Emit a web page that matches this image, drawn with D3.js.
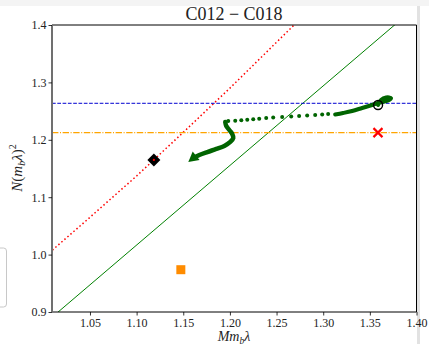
<!DOCTYPE html>
<html>
<head>
<meta charset="utf-8">
<script src="https://cdn.jsdelivr.net/npm/d3@7"></script>
<style>
  html, body { margin: 0; padding: 0; background: #fff; }
  svg { display: block; }
  text { font-family: "Liberation Serif", "DejaVu Serif", serif; fill: #222; }
</style>
</head>
<body>
<svg id="chart" width="429" height="344"></svg>
<script>
// ---------- data ----------
const title = "C012 \u2212 C018";
const xTicks = [1.05, 1.10, 1.15, 1.20, 1.25, 1.30, 1.35, 1.40];
const yTicks = [0.9, 1.0, 1.1, 1.2, 1.3, 1.4];
const xDomain = [1.0093, 1.40];
const yDomain = [0.9, 1.4];

// red dotted curve
const redCurveX = [1.00, 1.05, 1.10, 1.15, 1.20, 1.25, 1.28];
const redCurveY = [0.994, 1.065, 1.137, 1.213, 1.290, 1.370, 1.418];
// green solid line
const greenLineX = [1.00, 1.40];
const greenLineY = [0.878, 1.4326];
// horizontal reference lines
const blueDashedY = 1.2636;
const orangeDashDotY = 1.2125;

// trajectory: dense start (loop), sparse dots, dense end
const trajStartX = [1.3588, 1.3620, 1.3674, 1.3727, 1.3695, 1.3609, 1.3524, 1.3417, 1.3310, 1.3213, 1.3128];
const trajStartY = [1.2606, 1.2693, 1.2737, 1.2728, 1.2685, 1.2650, 1.2606, 1.2554, 1.2502, 1.2467, 1.2441];
const trajDotsX = [1.3053, 1.2989, 1.2914, 1.2828, 1.2742, 1.2657, 1.2560, 1.2464, 1.2389, 1.2314, 1.2250, 1.2186, 1.2122, 1.2057, 1.1982];
const trajDotsY = [1.2449, 1.2441, 1.2432, 1.2423, 1.2415, 1.2406, 1.2397, 1.2389, 1.2380, 1.2368, 1.2359, 1.2350, 1.2341, 1.2334, 1.2328];
const trajEndX = [1.1950, 1.1961, 1.1993, 1.2025, 1.2036, 1.2004, 1.1940, 1.1854, 1.1758, 1.1672, 1.1608];
const trajEndY = [1.2310, 1.2240, 1.2171, 1.2101, 1.2031, 1.1962, 1.1892, 1.1840, 1.1787, 1.1735, 1.1683];
const arrowTip = [1.1554, 1.1613];

// markers
const diamondPt = [1.1185, 1.165];
const crossPt = [1.3587, 1.2125];
const squarePt = [1.1474, 0.9737];
const circlePt = [1.3588, 1.2606];

// ---------- layout ----------
const L = 52, R = 416.5, T = 25, B = 312;
const svg = d3.select("#chart");
const x = d3.scaleLinear().domain(xDomain).range([L, R]);
const y = d3.scaleLinear().domain(yDomain).range([B, T]);

// background bits
svg.append("rect").attr("x", 0).attr("y", 0).attr("width", 429).attr("height", 6).attr("fill", "#f4f4f4");
svg.append("rect").attr("x", 417).attr("y", 6).attr("width", 3).attr("height", 338).attr("fill", "#e2e2e2");
// cut-off legend box at left
svg.append("rect").attr("x", -20).attr("y", 248).attr("width", 26.5).attr("height", 59)
  .attr("rx", 3).attr("fill", "#fff").attr("stroke", "#c8c8c8").attr("stroke-width", 1);

svg.append("defs").append("clipPath").attr("id", "clip")
  .append("rect").attr("x", L).attr("y", T).attr("width", R - L).attr("height", B - T);
const g = svg.append("g").attr("clip-path", "url(#clip)");

const line = d3.line().x(d => x(d[0])).y(d => y(d[1]));

// red dotted
g.append("path").datum(redCurveX.map((v, i) => [v, redCurveY[i]]))
  .attr("d", line).attr("fill", "none").attr("stroke", "red")
  .attr("stroke-width", 1.5).attr("stroke-dasharray", "1.5 2.5");
// green solid
g.append("path").datum(greenLineX.map((v, i) => [v, greenLineY[i]]))
  .attr("d", line).attr("fill", "none").attr("stroke", "#008000").attr("stroke-width", 1);
// blue dashed
g.append("line").attr("x1", L).attr("x2", R).attr("y1", y(blueDashedY)).attr("y2", y(blueDashedY))
  .attr("stroke", "#0000d0").attr("stroke-width", 1).attr("stroke-dasharray", "3.7 1.6");
// orange dash-dot
g.append("line").attr("x1", L).attr("x2", R).attr("y1", y(orangeDashDotY)).attr("y2", y(orangeDashDotY))
  .attr("stroke", "#ffa500").attr("stroke-width", 1.2).attr("stroke-dasharray", "6.4 1.6 1 1.6");

// trajectory
const dg = "#006400";
const curve = d3.line().x(d => x(d[0])).y(d => y(d[1])).curve(d3.curveCatmullRom);
g.append("path").datum(trajStartX.map((v, i) => [v, trajStartY[i]]))
  .attr("d", curve).attr("fill", "none").attr("stroke", dg).attr("stroke-width", 4)
  .attr("stroke-linecap", "round").attr("stroke-linejoin", "round");
g.selectAll("circle.dot").data(trajDotsX.map((v, i) => [v, trajDotsY[i]])).enter()
  .append("circle").attr("class", "dot").attr("cx", d => x(d[0])).attr("cy", d => y(d[1]))
  .attr("r", 2).attr("fill", dg);
const endPts = trajEndX.map((v, i) => [v, trajEndY[i]]);
g.append("path").datum(endPts)
  .attr("d", curve).attr("fill", "none").attr("stroke", dg).attr("stroke-width", 4.5)
  .attr("stroke-linecap", "round").attr("stroke-linejoin", "round");
// arrow head
{
  const last = endPts[endPts.length - 1];
  const tx = x(arrowTip[0]), ty = y(arrowTip[1]);
  const bx = x(last[0]), by = y(last[1]);
  const dx = tx - bx, dy = ty - by, len = Math.hypot(dx, dy);
  const ux = dx / len, uy = dy / len, px = -uy, py = ux;
  const hl = 10, hw = 5.5;
  const baseX = tx - ux * hl, baseY = ty - uy * hl;
  g.append("path")
    .attr("d", `M${tx},${ty} L${baseX + px * hw},${baseY + py * hw} L${baseX - px * hw},${baseY - py * hw} Z`)
    .attr("fill", dg);
  g.append("line").attr("x1", bx).attr("y1", by).attr("x2", baseX + ux * 2).attr("y2", baseY + uy * 2)
    .attr("stroke", dg).attr("stroke-width", 4.5);
}

// markers
const dx0 = x(diamondPt[0]), dy0 = y(diamondPt[1]);
g.append("path").attr("d", `M${dx0},${dy0 - 6.5} L${dx0 + 6.5},${dy0} L${dx0},${dy0 + 6.5} L${dx0 - 6.5},${dy0} Z`)
  .attr("fill", "#000");
g.append("circle").attr("cx", dx0).attr("cy", dy0).attr("r", 1.1).attr("fill", "red");

const cx0 = x(crossPt[0]), cy0 = y(crossPt[1]), cs = 4.5;
g.append("path").attr("d", `M${cx0 - cs},${cy0 - cs} L${cx0 + cs},${cy0 + cs} M${cx0 - cs},${cy0 + cs} L${cx0 + cs},${cy0 - cs}`)
  .attr("stroke", "red").attr("stroke-width", 2.2);

g.append("rect").attr("x", x(squarePt[0]) - 4.5).attr("y", y(squarePt[1]) - 4.5)
  .attr("width", 9).attr("height", 9).attr("fill", "#ff8c00");

g.append("circle").attr("cx", x(circlePt[0])).attr("cy", y(circlePt[1])).attr("r", 4.5)
  .attr("fill", "none").attr("stroke", "#000").attr("stroke-width", 1.4);

// spines
svg.append("line").attr("x1", L).attr("x2", R).attr("y1", T).attr("y2", T).attr("stroke", "#000").attr("stroke-width", 1);
svg.append("line").attr("x1", R).attr("x2", R).attr("y1", T).attr("y2", B).attr("stroke", "#000").attr("stroke-width", 1);
svg.append("line").attr("x1", L).attr("x2", R).attr("y1", B).attr("y2", B).attr("stroke", "#000").attr("stroke-width", 1);
svg.append("line").attr("x1", L).attr("x2", L).attr("y1", T).attr("y2", B).attr("stroke", "#707070").attr("stroke-width", 2);

// axes
const xAxis = d3.axisBottom(x).tickValues(xTicks).tickFormat(d3.format(".2f")).tickSize(3.5).tickPadding(2.5);
const yAxis = d3.axisLeft(y).tickValues(yTicks).tickFormat(d3.format(".1f")).tickSize(3.5).tickPadding(2);
const gx = svg.append("g").attr("transform", `translate(0,${B})`).call(xAxis);
const gy = svg.append("g").attr("transform", `translate(${L},0)`).call(yAxis);
[gx, gy].forEach(a => {
  a.select(".domain").remove();
  a.selectAll(".tick line").attr("stroke", "#000").attr("stroke-width", 0.8);
  a.selectAll(".tick text").attr("font-family", "Liberation Serif, serif").attr("font-size", 12).attr("fill", "#333");
});

// title
svg.append("text").attr("x", 234).attr("y", 20).attr("text-anchor", "middle")
  .attr("font-size", 18).attr("fill", "#222").text(title);

// x label  M m_b λ
const xl = svg.append("text").attr("x", 234).attr("y", 341).attr("text-anchor", "middle")
  .attr("font-size", 14).attr("font-style", "italic");
xl.append("tspan").text("Mm");
xl.append("tspan").attr("font-size", 9.5).attr("dy", 2.5).text("b");
xl.append("tspan").attr("dy", -2.5).text("\u03bb");

// y label  N(m_b λ)^2
const yl = svg.append("text").attr("transform", "translate(22,168) rotate(-90)")
  .attr("text-anchor", "middle").attr("font-size", 15);
yl.append("tspan").attr("font-style", "italic").text("N");
yl.append("tspan").text("(");
yl.append("tspan").attr("font-style", "italic").text("m");
yl.append("tspan").attr("font-style", "italic").attr("font-size", 10).attr("dy", 3).text("b");
yl.append("tspan").attr("font-style", "italic").attr("dy", -3).text("\u03bb");
yl.append("tspan").text(")");
yl.append("tspan").attr("font-size", 10).attr("dy", -6).text("2");
</script>
</body>
</html>
